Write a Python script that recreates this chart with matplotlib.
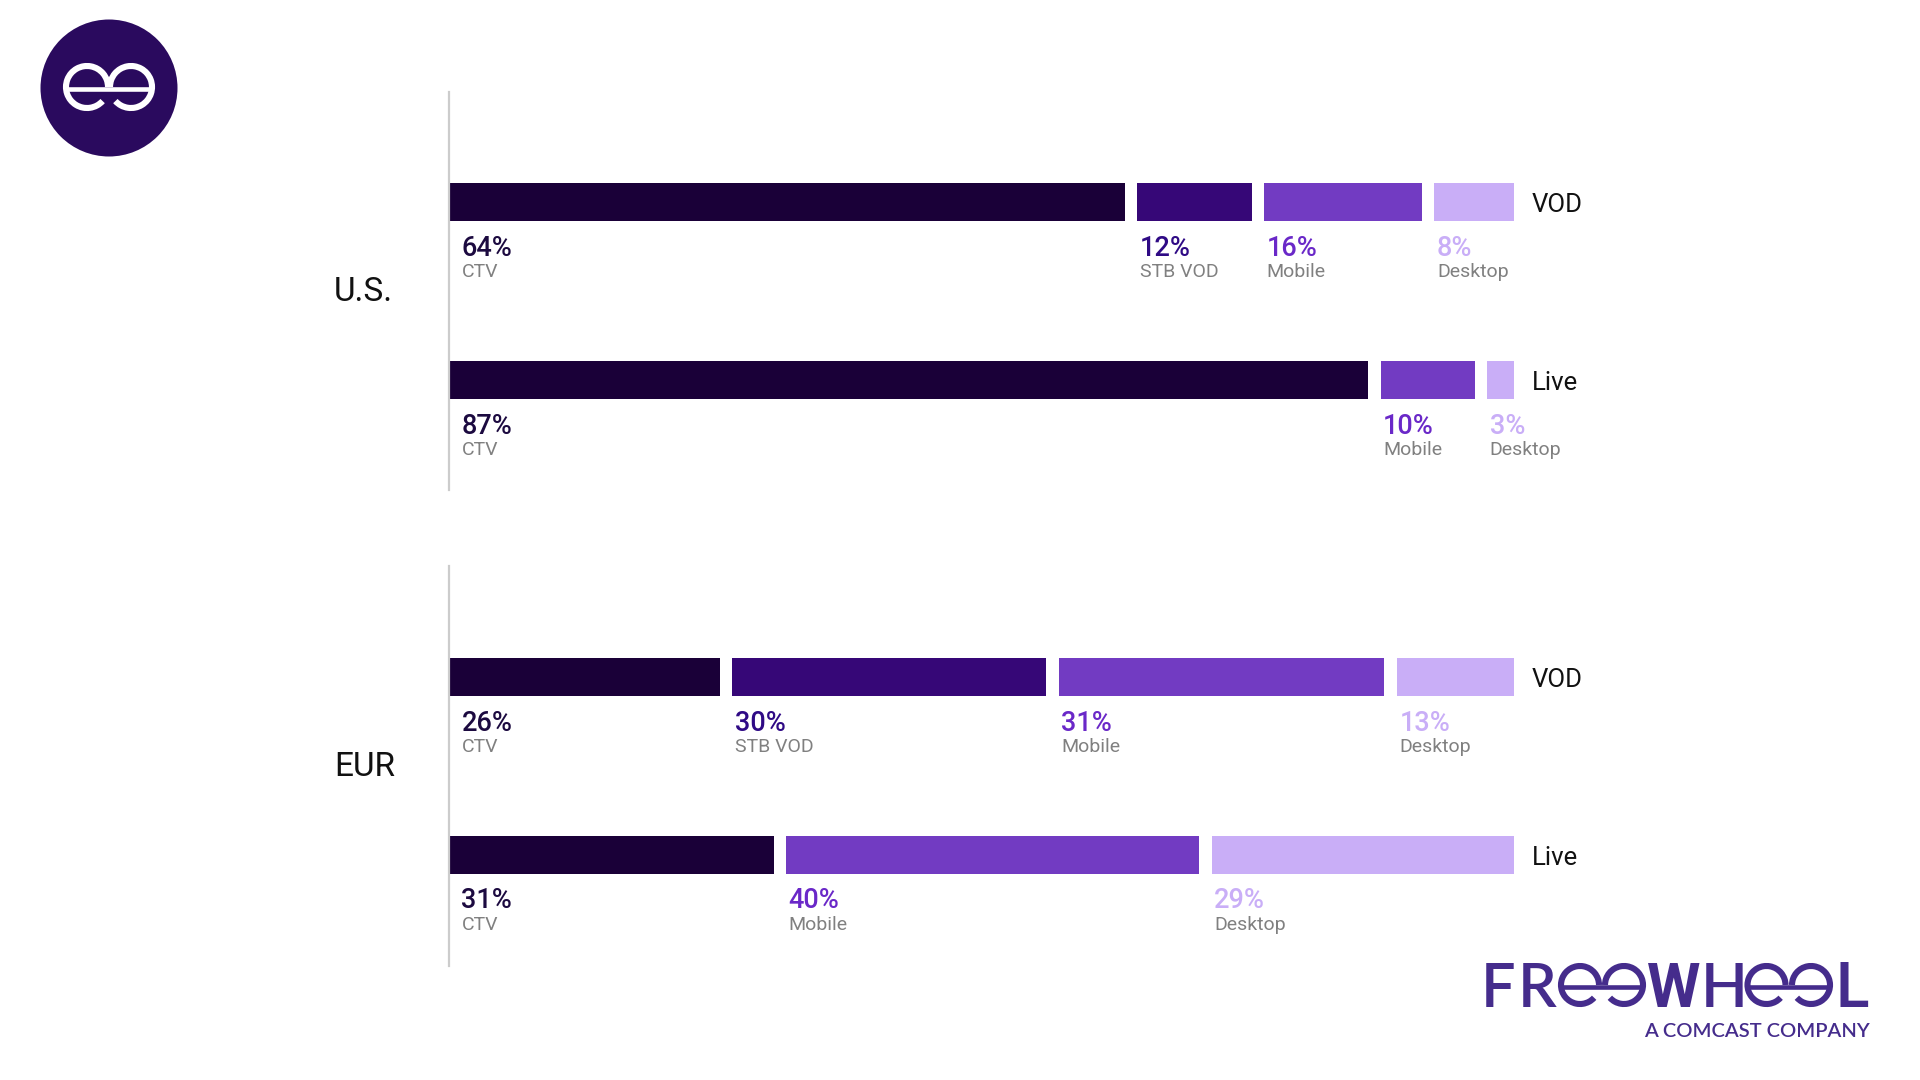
import matplotlib
matplotlib.use('Agg')
import matplotlib.pyplot as plt
from matplotlib.patches import Arc, Circle

plt.rcParams['font.family'] = ['Roboto', 'DejaVu Sans']

# shares measured off the bars, printed labels are kept as they stand on the chart
row_names = ['VOD', 'Live']

us_vod_devices = ['CTV', 'STB VOD', 'Mobile', 'Desktop']
us_vod_shares = [63.9, 11.8, 15.8, 8.5]
us_vod_labels = ['64%', '12%', '16%', '8%']

us_live_devices = ['CTV', 'Mobile', 'Desktop']
us_live_shares = [86.5, 9.9, 3.6]
us_live_labels = ['87%', '10%', '3%']

eur_vod_devices = ['CTV', 'STB VOD', 'Mobile', 'Desktop']
eur_vod_shares = [26.3, 30.3, 31.4, 12.0]
eur_vod_labels = ['26%', '30%', '31%', '13%']

eur_live_devices = ['CTV', 'Mobile', 'Desktop']
eur_live_shares = [31.3, 39.5, 29.2]
eur_live_labels = ['31%', '40%', '29%']

bar_colors = {'CTV': '#1a0038', 'STB VOD': '#360777', 'Mobile': '#723bc2', 'Desktop': '#c9aef7'}
text_colors = {'CTV': '#1c0a40', 'STB VOD': '#2f0a85', 'Mobile': '#6a28c8', 'Desktop': '#c9aef7'}

W, H = 1920, 1080
PX_PER_PCT = 10.77
GAP = 12.5 / PX_PER_PCT
ROW_PX = 178.0
BAR_H = 38 / ROW_PX


def draw_region(top, bottom, name, rows):
    left_px = 449
    ax = fig.add_axes([left_px / W, 1 - bottom / H, 100 * PX_PER_PCT / W, (bottom - top) / H])
    ax.set_xlim(0, 100)
    span = (bottom - top) / ROW_PX
    ax.set_ylim(0.5 + span / 2, 0.5 - span / 2)
    for s in ['top', 'right', 'bottom']:
        ax.spines[s].set_visible(False)
    ax.spines['left'].set_color('#cccccc')
    ax.spines['left'].set_linewidth(1.6)
    ax.set_xticks([])
    ax.set_yticks([])
    ax.patch.set_alpha(0)

    for y, (row, (devices, shares, labels)) in enumerate(zip(row_names, rows)):
        start = 0
        for i, (dev, share, lab) in enumerate(zip(devices, shares, labels)):
            ax.barh(y, share - GAP, left=start, height=BAR_H, color=bar_colors[dev])
            dx = 12.5 if i == 0 else 2.5
            ax.annotate(lab, (start, y), xytext=(dx, -53.5), textcoords='offset pixels',
                        fontsize=19.5, fontweight='medium', color=text_colors[dev],
                        va='baseline', ha='left', annotation_clip=False)
            ax.annotate(dev, (start, y), xytext=(dx, -75), textcoords='offset pixels',
                        fontsize=14, color='#808080', va='baseline', ha='left',
                        annotation_clip=False)
            start += share
        ax.annotate(row, (100, y), xytext=(6, -10), textcoords='offset pixels',
                    fontsize=18.5, color='#111111', va='baseline',
                    ha='left', annotation_clip=False)
    ax.annotate(name, (0, 0.5), xytext=(-115, -10), textcoords='offset pixels',
                fontsize=24, color='#111111', va='baseline', ha='left',
                annotation_clip=False)


def ee_mark(ax, cx1, cx2, cy, r, lw, color):
    # the two mirrored e's of the logo, cy in pixels from the top
    y = H - cy
    ax.add_patch(Arc((cx1, y), 2 * r, 2 * r, theta1=0, theta2=318, color=color, lw=lw))
    ax.add_patch(Arc((cx2, y), 2 * r, 2 * r, theta1=222, theta2=540, color=color, lw=lw))
    ax.plot([cx1 - r, cx2 + r], [y - 2, y - 2], color=color, lw=lw * 0.75, solid_capstyle='butt')


fig = plt.figure(figsize=(19.2, 10.8), dpi=100, facecolor='white')

# overlay in pixel units for the two logos
logo = fig.add_axes([0, 0, 1, 1])
logo.set_xlim(0, W)
logo.set_ylim(0, H)
logo.axis('off')

logo.add_patch(Circle((109, H - 88), 68.5, color='#2a0a5e', lw=0))
ee_mark(logo, 87, 131, 87, 21, 4.4, 'white')

FW = '#452c8c'
for ch, x0, fam in [('F', 1481, 'Lato'), ('R', 1518, 'Lato'), ('W', 1647, 'Roboto'),
                    ('H', 1701, 'Lato'), ('L', 1835, 'Inter')]:
    logo.text(x0, H - 1007, ch, fontsize=44, color=FW, family=fam, fontweight='semibold',
              ha='left', va='baseline')
ee_mark(logo, 1580, 1624, 985, 19, 4.4, FW)
ee_mark(logo, 1766.5, 1811, 985, 19, 4.4, FW)
logo.text(1869.3, H - 1036.7, 'A COMCAST COMPANY', fontsize=14.5, color=FW, family='Lato',
          fontweight='semibold', ha='right', va='baseline')

draw_region(92, 490, 'U.S.', [(us_vod_devices, us_vod_shares, us_vod_labels),
                              (us_live_devices, us_live_shares, us_live_labels)])
draw_region(566, 966, 'EUR', [(eur_vod_devices, eur_vod_shares, eur_vod_labels),
                              (eur_live_devices, eur_live_shares, eur_live_labels)])

fig.savefig('out.png', dpi=100)
